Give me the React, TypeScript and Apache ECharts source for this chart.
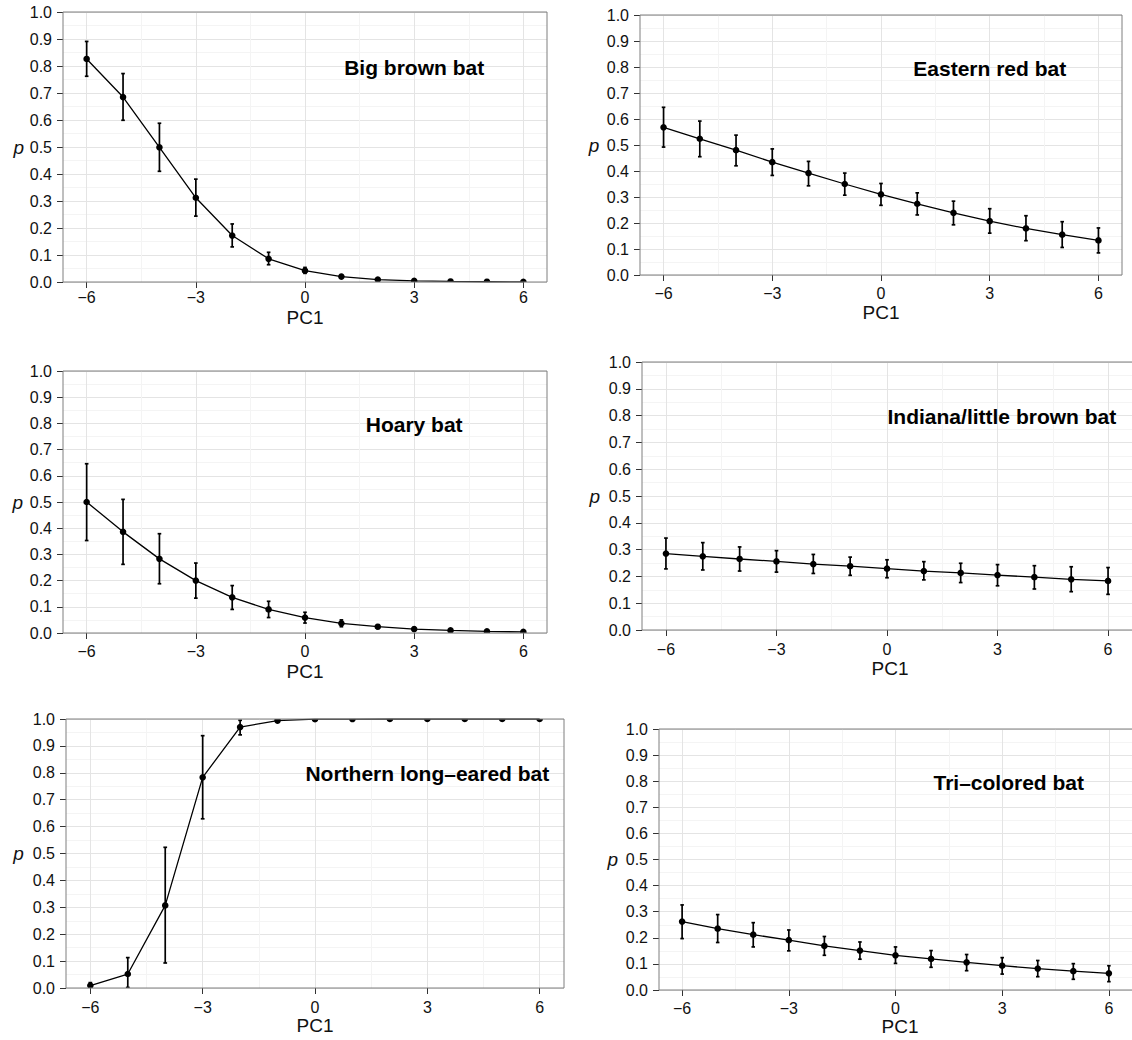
import React, { useEffect, useRef } from "react";
import * as echarts from "echarts";

// ---------- data ----------
const PC1_VALUES = [-6, -5, -4, -3, -2, -1, 0, 1, 2, 3, 4, 5, 6];
const X_TICK_VALUES = [-6, -3, 0, 3, 6];
const Y_TICK_LABELS = ["0.0", "0.1", "0.2", "0.3", "0.4", "0.5", "0.6", "0.7", "0.8", "0.9", "1.0"];

const SPECIES_NAMES = [
  "Big brown bat",
  "Eastern red bat",
  "Hoary bat",
  "Indiana/little brown bat",
  "Northern long–eared bat",
  "Tri–colored bat",
];

const BIG_BROWN_P = [0.826, 0.685, 0.499, 0.312, 0.172, 0.086, 0.042, 0.02, 0.009, 0.004, 0.002, 0.001, 0.0005];
const BIG_BROWN_LO = [0.762, 0.599, 0.41, 0.244, 0.13, 0.064, 0.032, 0.014, 0.005, 0.002, 0.001, 0.0, 0.0];
const BIG_BROWN_HI = [0.891, 0.772, 0.588, 0.381, 0.215, 0.11, 0.054, 0.027, 0.014, 0.008, 0.004, 0.002, 0.001];

const EASTERN_RED_P = [0.568, 0.524, 0.48, 0.434, 0.392, 0.35, 0.31, 0.274, 0.239, 0.207, 0.179, 0.155, 0.133];
const EASTERN_RED_LO = [0.492, 0.455, 0.42, 0.383, 0.343, 0.307, 0.268, 0.231, 0.193, 0.161, 0.132, 0.106, 0.085];
const EASTERN_RED_HI = [0.645, 0.592, 0.538, 0.485, 0.437, 0.392, 0.352, 0.316, 0.284, 0.255, 0.228, 0.205, 0.181];

const HOARY_P = [0.5, 0.386, 0.283, 0.2, 0.136, 0.09, 0.059, 0.037, 0.024, 0.015, 0.01, 0.006, 0.004];
const HOARY_LO = [0.353, 0.262, 0.188, 0.133, 0.09, 0.059, 0.038, 0.024, 0.017, 0.01, 0.006, 0.003, 0.002];
const HOARY_HI = [0.646, 0.51, 0.379, 0.267, 0.181, 0.121, 0.079, 0.05, 0.031, 0.021, 0.014, 0.009, 0.006];

const INDIANA_P = [0.285, 0.275, 0.265, 0.256, 0.246, 0.238, 0.229, 0.22, 0.213, 0.205, 0.197, 0.189, 0.183];
const INDIANA_LO = [0.228, 0.224, 0.22, 0.216, 0.211, 0.204, 0.195, 0.187, 0.177, 0.165, 0.153, 0.143, 0.133];
const INDIANA_HI = [0.343, 0.326, 0.31, 0.296, 0.282, 0.272, 0.262, 0.255, 0.249, 0.244, 0.24, 0.236, 0.233];

const NORTHERN_P = [0.009, 0.052, 0.307, 0.783, 0.97, 0.994, 0.9995, 0.9999, 1.0, 1.0, 1.0, 1.0, 1.0];
const NORTHERN_LO = [0.001, 0.002, 0.093, 0.629, 0.941, 0.988, 0.998, 0.9995, 1.0, 1.0, 1.0, 1.0, 1.0];
const NORTHERN_HI = [0.02, 0.113, 0.523, 0.938, 0.995, 0.999, 1.0, 1.0, 1.0, 1.0, 1.0, 1.0, 1.0];

const TRICOLORED_P = [0.262, 0.235, 0.212, 0.191, 0.169, 0.151, 0.133, 0.119, 0.106, 0.093, 0.082, 0.072, 0.064];
const TRICOLORED_LO = [0.197, 0.182, 0.165, 0.15, 0.133, 0.118, 0.102, 0.087, 0.074, 0.061, 0.051, 0.041, 0.032];
const TRICOLORED_HI = [0.326, 0.289, 0.258, 0.23, 0.205, 0.184, 0.165, 0.151, 0.136, 0.124, 0.113, 0.101, 0.093];

const SPECIES_P = [BIG_BROWN_P, EASTERN_RED_P, HOARY_P, INDIANA_P, NORTHERN_P, TRICOLORED_P];
const SPECIES_LO = [BIG_BROWN_LO, EASTERN_RED_LO, HOARY_LO, INDIANA_LO, NORTHERN_LO, TRICOLORED_LO];
const SPECIES_HI = [BIG_BROWN_HI, EASTERN_RED_HI, HOARY_HI, INDIANA_HI, NORTHERN_HI, TRICOLORED_HI];

// ---------- layout ----------
const XMIN = -6.65;
const XMAX = 6.65;
const TITLE_X = 3;
const TITLE_Y = 0.8;

const PANELS = [
  { left: 63, top: 12, width: 484, height: 270, labGap: 7.5, nameOff: 35, pX: 18.7 },
  { left: 640, top: 15, width: 482, height: 260, labGap: 10.3, nameOff: 37.4, pX: 594 },
  { left: 63, top: 371, width: 484, height: 262, labGap: 10.3, nameOff: 38, pX: 17.9 },
  { left: 642, top: 362, width: 496, height: 268, labGap: 11.3, nameOff: 38.3, pX: 594.7 },
  { left: 66, top: 719, width: 498, height: 269, labGap: 11, nameOff: 37.4, pX: 18.5 },
  { left: 659, top: 729, width: 482, height: 261, labGap: 10.3, nameOff: 36.7, pX: 612.7 },
];

const FONT = '"Liberation Sans", Arial, Helvetica, sans-serif';
const MAJOR = "#e4e4e4";
const MINOR = "#f4f4f4";
const BORDER = "#7f7f7f";

function fmtX(v: number): string {
  const r = Math.round(v * 1000) / 1000;
  if (!Number.isInteger(r) || r % 3 !== 0) return "";
  return r < 0 ? "\u2212" + String(-r) : String(r);
}

function buildOption() {
  const grid: any[] = [];
  const xAxis: any[] = [];
  const yAxis: any[] = [];
  const series: any[] = [];
  const graphic: any[] = [];

  PANELS.forEach((pn, i) => {
    grid.push({ left: pn.left, top: pn.top, width: pn.width, height: pn.height, show: false });
    xAxis.push({
      type: "value",
      gridIndex: i,
      min: XMIN,
      max: XMAX,
      splitNumber: 5,
      position: "bottom",
      axisLine: { show: false, onZero: false },
      axisTick: { show: true, length: 6, customValues: X_TICK_VALUES, lineStyle: { color: "#333", width: 1 } },
      axisLabel: {
        show: true,
        customValues: X_TICK_VALUES,
        margin: pn.labGap,
        fontFamily: FONT,
        fontSize: 16,
        color: "#111",
        formatter: (v: number) => fmtX(v),
      },
      splitLine: { show: true, lineStyle: { color: MAJOR, width: 1 } },
      minorTick: { show: false, splitNumber: 2 },
      minorSplitLine: { show: true, lineStyle: { color: MINOR, width: 1 } },
    });
    yAxis.push({
      type: "value",
      gridIndex: i,
      min: 0,
      max: 1,
      interval: 0.1,
      position: "left",
      axisLine: { show: false, onZero: false },
      axisTick: { show: true, length: 6, lineStyle: { color: "#333", width: 1 } },
      axisLabel: {
        margin: 11,
        fontFamily: FONT,
        fontSize: 16,
        color: "#111",
        formatter: (v: number) => Y_TICK_LABELS[Math.round(v * 10)] ?? "",
      },
      splitLine: { show: true, lineStyle: { color: MAJOR, width: 1 } },
      minorTick: { show: false, splitNumber: 2 },
      minorSplitLine: { show: true, lineStyle: { color: MINOR, width: 1 } },
    });

    const pv = SPECIES_P[i];
    const lo = SPECIES_LO[i];
    const hi = SPECIES_HI[i];
    series.push({
      type: "line",
      name: SPECIES_NAMES[i],
      xAxisIndex: i,
      yAxisIndex: i,
      data: PC1_VALUES.map((x, k) => [x, pv[k]]),
      showSymbol: false,
      clip: true,
      lineStyle: { color: "#000", width: 1.3 },
      z: 3,
    });
    series.push({
      type: "custom",
      name: SPECIES_NAMES[i] + " CI",
      xAxisIndex: i,
      yAxisIndex: i,
      clip: true,
      z: 4,
      data: PC1_VALUES.map((x, k) => [x, lo[k], hi[k], pv[k]]),
      encode: { x: 0, y: [1, 2, 3] },
      renderItem: (params: any, api: any) => {
        const x = api.value(0);
        const l = api.value(1);
        const h = api.value(2);
        const p = api.value(3);
        const t = api.coord([x, h]);
        const b = api.coord([x, l]);
        const c = api.coord([x, p]);
        const cl = api.coord([x - 0.05, h])[0];
        const cr = api.coord([x + 0.05, h])[0];
        const st = { stroke: "#000", lineWidth: 1.7 };
        return {
          type: "group",
          children: [
            { type: "line", shape: { x1: t[0], y1: t[1], x2: b[0], y2: b[1] }, style: st },
            { type: "line", shape: { x1: cl, y1: t[1], x2: cr, y2: t[1] }, style: st },
            { type: "line", shape: { x1: cl, y1: b[1], x2: cr, y2: b[1] }, style: st },
            { type: "circle", shape: { cx: c[0], cy: c[1], r: 3.3 }, style: { fill: "#000" } },
          ],
        };
      },
    });

    // panel frame
    graphic.push({
      type: "rect",
      silent: true,
      z: 100,
      shape: { x: pn.left, y: pn.top, width: pn.width, height: pn.height },
      style: { fill: "none", stroke: BORDER, lineWidth: 1 },
    });
    // title inside panel
    const tx = pn.left + ((TITLE_X - XMIN) / (XMAX - XMIN)) * pn.width;
    const ty = pn.top + (1 - TITLE_Y) * pn.height + 1;
    graphic.push({
      type: "text",
      silent: true,
      z: 101,
      x: tx,
      y: ty,
      style: {
        text: SPECIES_NAMES[i],
        font: `bold 21px ${FONT}`,
        fill: "#000",
        align: "center",
        verticalAlign: "middle",
        textAlign: "center",
        textVerticalAlign: "middle",
      },
    });
    // x axis title
    graphic.push({
      type: "text",
      silent: true,
      z: 101,
      x: pn.left + pn.width / 2,
      y: pn.top + pn.height + pn.nameOff,
      style: {
        text: "PC1",
        font: `19px ${FONT}`,
        fill: "#111",
        align: "center",
        verticalAlign: "middle",
        textAlign: "center",
        textVerticalAlign: "middle",
      },
    });
    // y axis title
    graphic.push({
      type: "text",
      silent: true,
      z: 101,
      x: pn.pX,
      y: pn.top + pn.height / 2,
      style: {
        text: "p",
        font: `italic 19px ${FONT}`,
        fill: "#111",
        align: "center",
        verticalAlign: "middle",
        textAlign: "center",
        textVerticalAlign: "middle",
      },
    });
  });

  return {
    animation: false,
    backgroundColor: "#ffffff",
    grid,
    xAxis,
    yAxis,
    series,
    graphic,
  };
}

export default function App() {
  const ref = useRef<HTMLDivElement>(null);
  useEffect(() => {
    document.body.style.margin = "0";
    if (!ref.current) return;
    const chart = echarts.init(ref.current, undefined, { renderer: "svg" });
    chart.setOption(buildOption() as any);
    return () => {
      chart.dispose();
    };
  }, []);
  return <div ref={ref} style={{ width: 1132, height: 1040, background: "#fff" }} />;
}
